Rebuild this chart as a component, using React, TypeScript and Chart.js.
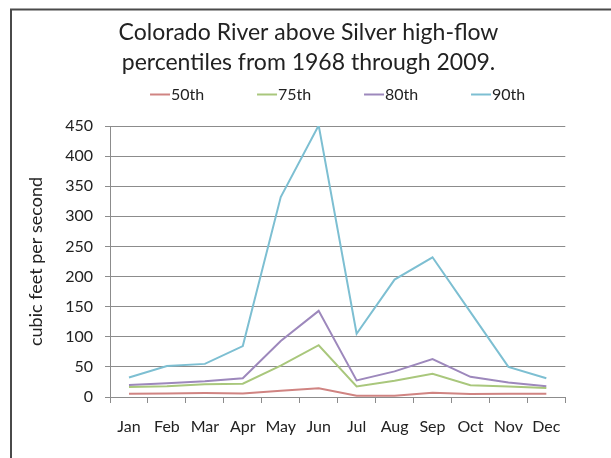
import React, { useEffect, useRef } from 'react';
import { Chart, registerables } from 'chart.js';

Chart.register(...registerables);

const FONT = 'Lato';

const titleLines = [
  'Colorado River above Silver high-flow',
  'percentiles from 1968 through 2009.',
];
const yAxisTitle = 'cubic feet per second';
const months = ['Jan', 'Feb', 'Mar', 'Apr', 'May', 'Jun', 'Jul', 'Aug', 'Sep', 'Oct', 'Nov', 'Dec'];
const seriesLabels = ['50th', '75th', '80th', '90th'];
const seriesColors = ['#D08482', '#A9C77C', '#9D88BC', '#7DBFD2'];
const p50 = [5.5, 6, 6.5, 5.8, 10.5, 14.5, 2, 2, 7, 5, 5.5, 5.5];
const p75 = [16.5, 18, 21, 22, 52, 86, 17.5, 27, 38.5, 19.5, 17.5, 15];
const p80 = [20, 23, 26, 31, 93, 143, 27.5, 42.5, 63, 33.5, 24, 18];
const p90 = [32.5, 51.5, 55, 84.5, 332, 451, 105, 195, 232, 141, 50, 31];
const yMin = 0;
const yMax = 450;
const yStep = 50;

const framePlugin = {
  id: 'frame',
  beforeDraw(chart: any) {
    const { ctx, width, height } = chart;
    ctx.save();
    ctx.fillStyle = '#ffffff';
    ctx.fillRect(0, 0, width, height);
    ctx.strokeStyle = '#4a4a4a';
    ctx.lineWidth = 2;
    ctx.strokeRect(11, 9.5, width + 20, height + 20);
    ctx.restore();
  },
};

const lineLegendPlugin = {
  id: 'lineLegend',
  afterDraw(chart: any, _args: any, opts: any) {
    const { ctx, chartArea } = chart;
    const cx = (chartArea.left + chartArea.right) / 2;
    ctx.save();
    ctx.font = `${opts.size}px ${FONT}`;
    const items = chart.data.datasets.map((ds: any) => ({
      label: ds.label,
      color: ds.borderColor,
      w: opts.lineW + opts.gap + ctx.measureText(ds.label).width,
    }));
    const n = items.length;
    const total = (n - 1) * opts.slot + items[n - 1].w;
    const start = cx - total / 2;
    items.forEach((it: any, i: number) => {
      const x0 = start + i * opts.slot;
      ctx.strokeStyle = it.color;
      ctx.lineWidth = 2;
      ctx.beginPath();
      ctx.moveTo(x0, opts.lineY);
      ctx.lineTo(x0 + opts.lineW, opts.lineY);
      ctx.stroke();
      ctx.fillStyle = opts.color;
      ctx.textAlign = 'left';
      ctx.textBaseline = 'alphabetic';
      ctx.fillText(it.label, x0 + opts.lineW + opts.gap, opts.textY);
    });
    ctx.restore();
  },
};

export default function App() {
  const canvasRef = useRef<HTMLCanvasElement | null>(null);

  useEffect(() => {
    const canvas = canvasRef.current;
    if (!canvas) return;
    const series = [p50, p75, p80, p90];
    const gridColor = '#8c8c8c';
    const textColor = '#222222';
    const chart = new Chart(canvas, {
      type: 'line',
      data: {
        labels: months,
        datasets: series.map((values, i) => ({
          label: seriesLabels[i],
          data: values,
          borderColor: seriesColors[i],
          backgroundColor: seriesColors[i],
          borderWidth: 2,
          pointRadius: 0,
          tension: 0,
          fill: false,
          yAxisID: 'y',
        })),
      },
      options: {
        responsive: false,
        animation: false,
        layout: { padding: { left: 6, right: 0, top: 0, bottom: 0 } },
        plugins: {
          legend: { display: false },
          tooltip: { enabled: false },
          title: {
            display: true,
            text: titleLines,
            color: textColor,
            font: { family: FONT, size: 23, weight: 'normal', lineHeight: '30px' },
            padding: { top: 17.8, bottom: 48.2 },
          },
          lineLegend: { size: 16, lineW: 20, gap: 1, slot: 107, lineY: 94.5, textY: 100, color: textColor },
        } as any,
        scales: {
          x: {
            type: 'category',
            offset: true,
            grid: {
              display: true,
              offset: true,
              drawOnChartArea: false,
              drawTicks: true,
              tickLength: 6,
              color: gridColor,
            },
            border: { display: true, color: gridColor },
            ticks: { color: textColor, font: { family: FONT, size: 16 }, padding: 14.6, maxRotation: 0, autoSkip: false },
            afterFit: (s: any) => { s.height = 61; },
          },
          y: {
            type: 'linear',
            position: 'left',
            min: yMin,
            max: yMax,
            grid: { color: gridColor, tickLength: 5, drawTicks: true },
            border: { display: true, color: gridColor },
            ticks: { stepSize: yStep, color: textColor, font: { family: FONT, size: 16 }, padding: 12 },
            title: {
              display: true,
              text: yAxisTitle,
              color: textColor,
              font: { family: FONT, size: 18 },
              padding: { top: 19.7, bottom: 0 },
            },
            afterFit: (s: any) => { s.width = 104; },
          },
          yRightSpace: {
            type: 'linear',
            position: 'right',
            display: true,
            grid: { display: false, drawTicks: false },
            border: { display: false },
            ticks: { display: false },
            afterFit: (s: any) => { s.width = 45.7; },
          },
        } as any,
      },
      plugins: [framePlugin, lineLegendPlugin],
    });
    return () => chart.destroy();
  }, []);

  return (
    <div style={{ position: 'fixed', left: 0, top: 0, width: 611, height: 458, overflow: 'hidden' }}>
      <canvas ref={canvasRef} width={611} height={458} />
    </div>
  );
}
